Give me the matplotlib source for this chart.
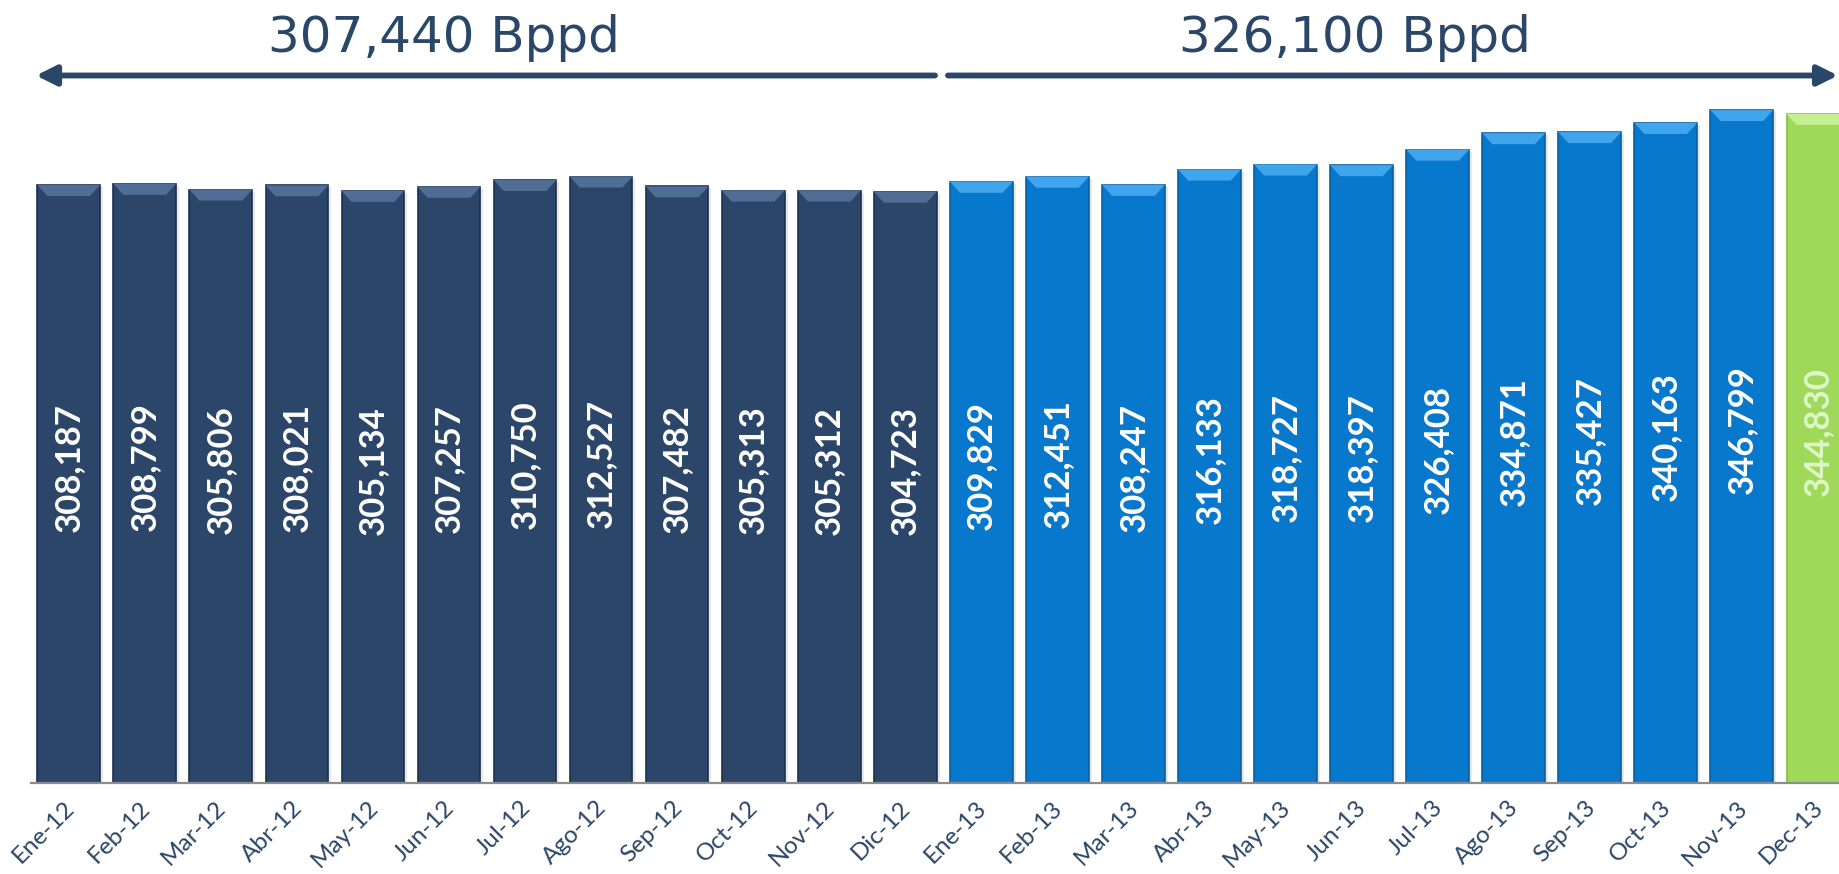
import matplotlib
matplotlib.use("Agg")
import matplotlib.pyplot as plt
import matplotlib.transforms as mtransforms
from matplotlib.patches import Polygon, Rectangle

# ---- data ----
months = ["Ene-12", "Feb-12", "Mar-12", "Abr-12", "May-12", "Jun-12", "Jul-12", "Ago-12",
          "Sep-12", "Oct-12", "Nov-12", "Dic-12", "Ene-13", "Feb-13", "Mar-13", "Abr-13",
          "May-13", "Jun-13", "Jul-13", "Ago-13", "Sep-13", "Oct-13", "Nov-13", "Dec-13"]
values = [308187, 308799, 305806, 308021, 305134, 307257, 310750, 312527,
          307482, 305313, 305312, 304723, 309829, 312451, 308247, 316133,
          318727, 318397, 326408, 334871, 335427, 340163, 346799, 344830]
groups = ["2012"] * 12 + ["2013"] * 11 + ["dec13"]
period_labels = ["307,440 Bppd", "326,100 Bppd"]

# ---- styles ----
fill = {"2012": "#2c4669", "2013": "#0878cc", "dec13": "#9ed95a"}
bevel = {"2012": "#4f6d95", "2013": "#40a5ec", "dec13": "#c6f08f"}
edge = {"2012": "#1c3152", "2013": "#0a5fa3", "dec13": "#7fbf3f"}
label_col = {"2012": "white", "2013": "white", "dec13": "#dff6c6"}
navy_text = "#2a4668"

W, H = 1839, 874
fig = plt.figure(figsize=(W / 100, H / 100), dpi=100)
ax = fig.add_axes([30.7 / W, (H - 783) / H, 1825.2 / W, 723 / H])
ax.set_xlim(-0.5, 23.5)
ax.set_ylim(0, 372600)

bw = 0.824
x = list(range(len(values)))
cols = [fill[g] for g in groups]
ecols = [edge[g] for g in groups]

# soft shadow
units_per_px_x = 24 / 1825.2
units_per_px_y = 372600 / 723
for xi, v in zip(x, values):
    ax.add_patch(Rectangle((xi - bw / 2 + 3 * units_per_px_x, 0), bw, v - 2 * units_per_px_y,
                           facecolor="#d9d9d9", edgecolor="none", alpha=0.6, zorder=1))

bars = ax.bar(x, values, width=bw, color=cols, edgecolor=ecols, linewidth=1.2, zorder=2)

# top bevel
bh = 11 * units_per_px_y
inset = 10 * units_per_px_x
for xi, v, g in zip(x, values, groups):
    x0, x1 = xi - bw / 2, xi + bw / 2
    poly = Polygon([(x0, v), (x1, v), (x1 - inset, v - bh), (x0 + inset, v - bh)],
                   closed=True, facecolor=bevel[g], edgecolor="none", zorder=3)
    ax.add_patch(poly)

# value labels
for xi, v, g in zip(x, values, groups):
    ax.annotate(f"{v:,}", xy=(xi, v / 2), xytext=(0, 12), textcoords="offset points",
                rotation=90, ha="center", va="center",
                color=label_col[g], fontsize=25, fontweight="bold", family="Lato", zorder=4)

# axes styling
ax.set_xticks(x)
ax.set_xticklabels(months, rotation=45, ha="right", rotation_mode="anchor",
                   fontsize=17.5, color=navy_text, family="Lato")
ax.tick_params(axis="x", length=0, pad=10)
shift = mtransforms.ScaledTranslation(-4 / 72, 0, fig.dpi_scale_trans)
for lab in ax.get_xticklabels():
    lab.set_transform(lab.get_transform() + shift)
ax.set_yticks([])
for s in ["top", "left", "right"]:
    ax.spines[s].set_visible(False)
ax.spines["bottom"].set_color("#8c8c8c")
ax.spines["bottom"].set_linewidth(1.6)
ax.set_facecolor("none")

# period arrows and totals
ya = 1 - 75.5 / H
astyle = dict(arrowstyle="-|>,head_length=0.6,head_width=0.3", color=navy_text,
              lw=4.2, shrinkA=0, shrinkB=0, mutation_scale=20)
ax.annotate("", xy=(36 / W, ya), xytext=(935 / W, ya), xycoords="figure fraction",
            textcoords="figure fraction", arrowprops=astyle, annotation_clip=False)
ax.annotate("", xy=(1838 / W, ya), xytext=(948 / W, ya), xycoords="figure fraction",
            textcoords="figure fraction", arrowprops=astyle, annotation_clip=False)

fig.text(444 / W, 1 - 52 / H, period_labels[0], ha="center", va="baseline",
         fontsize=36, color=navy_text, family="DejaVu Sans")
fig.text(1355 / W, 1 - 52 / H, period_labels[1], ha="center", va="baseline",
         fontsize=36, color=navy_text, family="DejaVu Sans")

fig.savefig("out.png", dpi=100)
